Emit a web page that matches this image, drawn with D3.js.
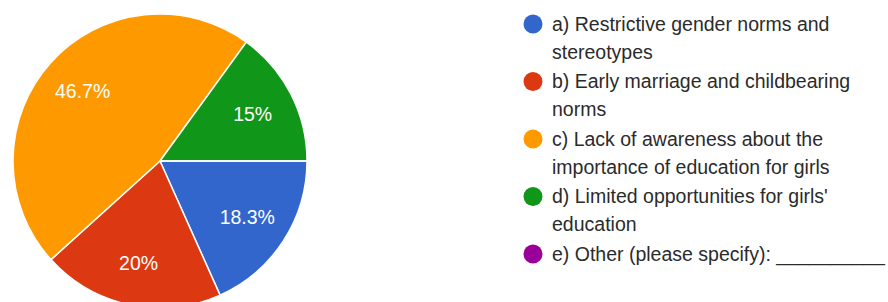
<!DOCTYPE html>
<html>
<head>
<meta charset="utf-8">
<script src="https://cdn.jsdelivr.net/npm/d3@7.9.0/dist/d3.min.js"></script>
<style>
  body { margin: 0; background: #fff; }
  svg { display: block; font-family: "Liberation Sans", Arial, sans-serif; }
</style>
</head>
<body>
<svg id="chart" width="888" height="302"></svg>
<script>
// answer options (legend text, split into lines as shown)
const categories = [
  ['a) Restrictive gender norms and', 'stereotypes'],
  ['b) Early marriage and childbearing', 'norms'],
  ['c) Lack of awareness about the', 'importance of education for girls'],
  ["d) Limited opportunities for girls'", 'education'],
  ['e) Other (please specify): __________']
];
const values = [18.3, 20, 46.7, 15, 0];
const labels = ['18.3%', '20%', '46.7%', '15%', ''];
const colors = ['#3366cc', '#dc3912', '#ff9900', '#109618', '#990099'];

const svg = d3.select('#chart');

const cx = 160, cy = 161, radius = 147;

const pie = d3.pie()
  .sort(null)
  .startAngle(Math.PI / 2)
  .endAngle(Math.PI / 2 + 2 * Math.PI);

const arc = d3.arc().innerRadius(0).outerRadius(radius);
const labelArc = d3.arc().innerRadius(104).outerRadius(104);

const arcs = pie(values);
const g = svg.append('g').attr('transform', `translate(${cx},${cy})`);

g.selectAll('path')
  .data(arcs)
  .enter()
  .append('path')
  .attr('d', arc)
  .attr('fill', (d, i) => colors[i])
  .attr('stroke', '#fff')
  .attr('stroke-width', 1.5);

g.selectAll('text')
  .data(arcs.filter((d, i) => labels[i] !== ''))
  .enter()
  .append('text')
  .attr('transform', d => `translate(${labelArc.centroid(d)})`)
  .attr('text-anchor', 'middle')
  .attr('dy', '0.35em')
  .attr('fill', '#fff')
  .attr('font-size', 19.5)
  .text(d => labels[d.index]);

// legend
const legend = svg.append('g');
let y = 24;
categories.forEach((lines, i) => {
  legend.append('circle')
    .attr('cx', 533)
    .attr('cy', y)
    .attr('r', 9.5)
    .attr('fill', colors[i]);
  lines.forEach((line, j) => {
    legend.append('text')
      .attr('x', 552)
      .attr('y', y + j * 28)
      .attr('dy', '0.35em')
      .attr('font-size', 19.5)
      .attr('fill', '#2b2b2b')
      .text(line);
  });
  y += 57.5;
});
</script>
</body>
</html>
